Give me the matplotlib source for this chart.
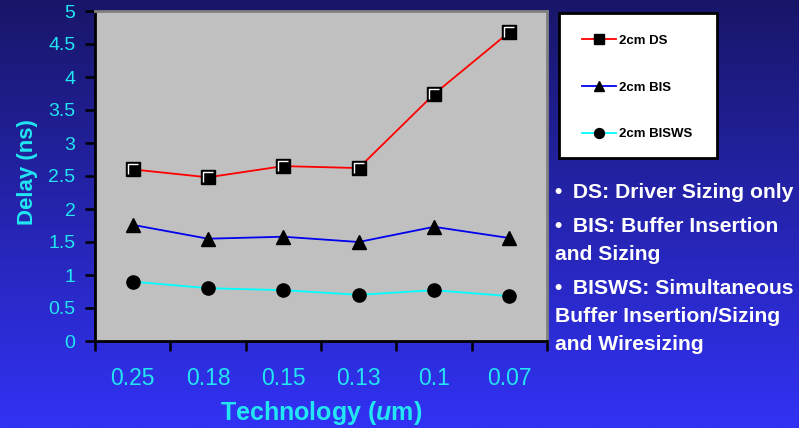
import numpy as np
import matplotlib
matplotlib.use("Agg")
import matplotlib.pyplot as plt
from matplotlib.patches import Rectangle
from matplotlib.path import Path

plt.rcParams['font.family'] = ['Liberation Sans', 'DejaVu Sans']
plt.rcParams['mathtext.fontset'] = 'custom'
plt.rcParams['mathtext.bfit'] = 'Liberation Sans:italic:bold'
plt.rcParams['mathtext.bf'] = 'Liberation Sans:bold'

tech = ["0.25", "0.18", "0.15", "0.13", "0.1", "0.07"]
ds = [2.6, 2.48, 2.65, 2.62, 3.74, 4.68]
bis = [1.76, 1.55, 1.58, 1.5, 1.73, 1.56]
bisws = [0.9, 0.8, 0.77, 0.7, 0.77, 0.68]

notes = [
    ("\u2022\u2002DS: Driver Sizing only", 193),
    ("\u2022\u2002BIS: Buffer Insertion", 227),
    ("and Sizing", 255),
    ("\u2022\u2002BISWS: Simultaneous", 289),
    ("Buffer Insertion/Sizing", 317),
    ("and Wiresizing", 345),
]

W, H = 799, 428
fig = plt.figure(figsize=(W / 100, H / 100), dpi=100)

# gradient backdrop
bg = fig.add_axes([0, 0, 1, 1])
t = np.linspace(0, 1, 256)[:, None]
top = np.array([24, 22, 104]) / 255
bot = np.array([50, 50, 245]) / 255
grad = top[None, None, :] * (1 - t[..., None]) + bot[None, None, :] * t[..., None]
grad = np.repeat(grad, 2, axis=1)
bg.imshow(grad, aspect='auto', extent=[0, 1, 0, 1])
bg.axis('off')

cyan = '#22e6f2'
ax = fig.add_axes([95 / W, 1 - 341 / H, 452 / W, 330 / H])
ax.set_facecolor('#c0c0c0')
x = np.arange(len(tech)) + 0.5
l1, = ax.plot(x, ds, color='red', lw=1.3, marker='s', ms=9.5, mfc='black', mec='black', zorder=3)
l2, = ax.plot(x, bis, color='#0000ee', lw=1.3, marker='^', ms=10, mfc='black', mec='black', zorder=3)
l3, = ax.plot(x, bisws, color='cyan', lw=1.3, marker='o', ms=9.5, mfc='black', mec='black', zorder=3)

# white corner highlight inside the square markers
corner = Path([(-0.5, -0.5), (-0.5, 0.5), (0.5, 0.5)], [Path.MOVETO, Path.LINETO, Path.LINETO])
ax.plot(x, ds, ls='none', marker=corner, ms=6.5, mfc='none', mec='white', mew=1.0, zorder=4)

ax.set_xlim(0, 6)
ax.set_ylim(0, 5)
ax.set_yticks(np.arange(0, 5.01, 0.5))
ax.set_yticklabels(['0', '0.5', '1', '1.5', '2', '2.5', '3', '3.5', '4', '4.5', '5'])
ax.set_xticks(np.arange(0, 7))
ax.set_xticklabels([])
ax.set_xticks(x, minor=True)
ax.set_xticklabels(tech, minor=True)
ax.tick_params(axis='x', which='major', direction='out', length=7, width=1.8, color='black')
ax.tick_params(axis='x', which='minor', length=0, pad=19, labelsize=16.5, labelcolor=cyan)
ax.tick_params(axis='y', direction='out', length=7, width=1.8, color='black', pad=7,
               labelsize=14, labelcolor=cyan)
for s in ['left', 'bottom']:
    ax.spines[s].set_color('black')
    ax.spines[s].set_linewidth(2)
for s in ['top', 'right']:
    ax.spines[s].set_color('#808080')
    ax.spines[s].set_linewidth(2)

ax.set_xlabel(r'Technology ($\mathbfit{u}$m)', fontsize=18, fontweight='bold', color=cyan, labelpad=6)
ax.set_ylabel('Delay (ns)', fontsize=16, fontweight='bold', color=cyan)
ax.yaxis.set_label_coords(38 / W, 1 - 172 / H, transform=fig.transFigure)

# legend panel
fig.patches.append(Rectangle((559 / W, 1 - 158 / H), 158 / W, 145 / H, transform=fig.transFigure,
                             facecolor='white', edgecolor='black', lw=2, zorder=5))
leg = fig.legend([l1, l2, l3], ['2cm DS', '2cm BIS', '2cm BISWS'], loc='upper left',
                 bbox_to_anchor=(570 / W, 1 - 23 / H), frameon=False,
                 prop={'weight': 'bold', 'size': 9.5}, handlelength=2.6, handletextpad=0.2,
                 labelspacing=2.6, markerscale=0.75)
leg.set_zorder(6)

for txt, yy in notes:
    fig.text(555 / W, 1 - yy / H, txt, color='white', fontsize=15.2, fontweight='bold',
             va='center', ha='left')

fig.savefig('out.png', dpi=100)
